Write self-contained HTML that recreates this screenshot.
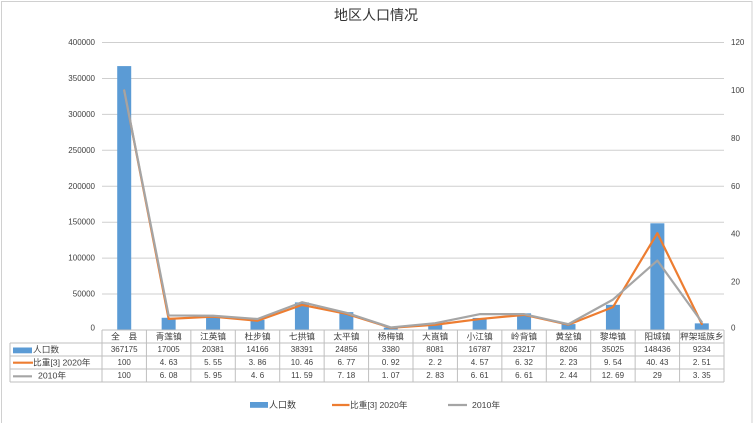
<!DOCTYPE html>
<html>
<head>
<meta charset="utf-8">
<style>
html,body{margin:0;padding:0;background:#fff;}
svg{display:block;}
text{font-family:"Liberation Sans","Noto Sans CJK SC",sans-serif;fill:#404040;}
</style>
</head>
<body>
<svg width="754" height="423" viewBox="0 0 754 423" xmlns="http://www.w3.org/2000/svg">
<rect x="0" y="0" width="754" height="423" fill="#fff"/>
<rect x="1.5" y="1.5" width="750.5" height="424" fill="none" stroke="#d0d0d0" stroke-width="1"/>

<!-- title -->
<text x="376" y="15" font-size="14" text-anchor="middle" dominant-baseline="central" style="fill:#333">地区人口情况</text>

<!-- gridlines -->
<g stroke="#cfcfcf" stroke-width="1">
<line x1="102" y1="42.5" x2="724" y2="42.5"/>
<line x1="102" y1="78.44" x2="724" y2="78.44"/>
<line x1="102" y1="114.38" x2="724" y2="114.38"/>
<line x1="102" y1="150.31" x2="724" y2="150.31"/>
<line x1="102" y1="186.25" x2="724" y2="186.25"/>
<line x1="102" y1="222.19" x2="724" y2="222.19"/>
<line x1="102" y1="258.13" x2="724" y2="258.13"/>
<line x1="102" y1="294.06" x2="724" y2="294.06"/>
</g>

<!-- left axis labels -->
<g font-size="8" text-anchor="end">
<text x="95" y="42.5" dominant-baseline="central">400000</text>
<text x="95" y="78.44" dominant-baseline="central">350000</text>
<text x="95" y="114.38" dominant-baseline="central">300000</text>
<text x="95" y="150.31" dominant-baseline="central">250000</text>
<text x="95" y="186.25" dominant-baseline="central">200000</text>
<text x="95" y="222.19" dominant-baseline="central">150000</text>
<text x="95" y="258.13" dominant-baseline="central">100000</text>
<text x="95" y="294.06" dominant-baseline="central">50000</text>
<text x="95" y="328" dominant-baseline="central">0</text>
</g>

<!-- right axis labels -->
<g font-size="8" text-anchor="start">
<text x="731" y="42.5" dominant-baseline="central">120</text>
<text x="731" y="90.42" dominant-baseline="central">100</text>
<text x="731" y="138.33" dominant-baseline="central">80</text>
<text x="731" y="186.25" dominant-baseline="central">60</text>
<text x="731" y="234.17" dominant-baseline="central">40</text>
<text x="731" y="282.08" dominant-baseline="central">20</text>
<text x="731" y="328" dominant-baseline="central">0</text>
</g>

<!-- bars -->
<g fill="#5b9bd5">
<rect x="117.21" y="66.09" width="14" height="263.91"/>
<rect x="161.64" y="317.78" width="14" height="12.22"/>
<rect x="206.07" y="315.35" width="14" height="14.65"/>
<rect x="250.50" y="319.82" width="14" height="10.18"/>
<rect x="294.93" y="302.41" width="14" height="27.59"/>
<rect x="339.36" y="312.13" width="14" height="17.87"/>
<rect x="383.79" y="327.57" width="14" height="2.43"/>
<rect x="428.21" y="324.19" width="14" height="5.81"/>
<rect x="472.64" y="317.93" width="14" height="12.07"/>
<rect x="517.07" y="313.31" width="14" height="16.69"/>
<rect x="561.50" y="324.10" width="14" height="5.90"/>
<rect x="605.93" y="304.83" width="14" height="25.17"/>
<rect x="650.36" y="223.31" width="14" height="106.69"/>
<rect x="694.79" y="323.36" width="14" height="6.64"/>
</g>

<!-- 2020 line -->
<polyline fill="none" stroke="#ed7d31" stroke-width="2.2" stroke-linejoin="round" stroke-linecap="round"
points="124.21,90.42 168.64,318.91 213.07,316.70 257.50,320.75 301.93,304.94 346.36,313.78 390.79,327.80 435.21,324.73 479.64,319.05 524.07,314.86 568.50,324.66 612.93,307.14 657.36,233.14 701.79,323.99"/>
<!-- 2010 line -->
<polyline fill="none" stroke="#a5a5a5" stroke-width="2.2" stroke-linejoin="round" stroke-linecap="round"
points="124.21,90.42 168.64,315.43 213.07,315.74 257.50,318.98 301.93,302.23 346.36,312.80 390.79,327.44 435.21,323.22 479.64,314.16 524.07,314.16 568.50,324.15 612.93,299.60 657.36,260.52 701.79,321.97"/>

<!-- data table grid -->
<g stroke="#bfbfbf" stroke-width="1" fill="none">
<line x1="102" y1="330" x2="724" y2="330"/>
<line x1="10" y1="343" x2="724" y2="343"/>
<line x1="10" y1="356" x2="724" y2="356"/>
<line x1="10" y1="369" x2="724" y2="369"/>
<line x1="10" y1="382" x2="724" y2="382"/>
<line x1="10" y1="343" x2="10" y2="382"/>
<line x1="102" y1="330" x2="102" y2="382"/>
<line x1="146.43" y1="330" x2="146.43" y2="382"/>
<line x1="190.86" y1="330" x2="190.86" y2="382"/>
<line x1="235.29" y1="330" x2="235.29" y2="382"/>
<line x1="279.71" y1="330" x2="279.71" y2="382"/>
<line x1="324.14" y1="330" x2="324.14" y2="382"/>
<line x1="368.57" y1="330" x2="368.57" y2="382"/>
<line x1="413.00" y1="330" x2="413.00" y2="382"/>
<line x1="457.43" y1="330" x2="457.43" y2="382"/>
<line x1="501.86" y1="330" x2="501.86" y2="382"/>
<line x1="546.29" y1="330" x2="546.29" y2="382"/>
<line x1="590.71" y1="330" x2="590.71" y2="382"/>
<line x1="635.14" y1="330" x2="635.14" y2="382"/>
<line x1="679.57" y1="330" x2="679.57" y2="382"/>
<line x1="724" y1="330" x2="724" y2="382"/>
</g>

<!-- category header -->
<g font-size="8.7" text-anchor="middle">
<text x="124.21" y="336.5" dominant-baseline="central">全　县</text>
<text x="168.64" y="336.5" dominant-baseline="central">青莲镇</text>
<text x="213.07" y="336.5" dominant-baseline="central">江英镇</text>
<text x="257.50" y="336.5" dominant-baseline="central">杜步镇</text>
<text x="301.93" y="336.5" dominant-baseline="central">七拱镇</text>
<text x="346.36" y="336.5" dominant-baseline="central">太平镇</text>
<text x="390.79" y="336.5" dominant-baseline="central">杨梅镇</text>
<text x="435.21" y="336.5" dominant-baseline="central">大崀镇</text>
<text x="479.64" y="336.5" dominant-baseline="central">小江镇</text>
<text x="524.07" y="336.5" dominant-baseline="central">岭背镇</text>
<text x="568.50" y="336.5" dominant-baseline="central">黄坌镇</text>
<text x="612.93" y="336.5" dominant-baseline="central">黎埠镇</text>
<text x="657.36" y="336.5" dominant-baseline="central">阳城镇</text>
<text x="701.79" y="336.5" dominant-baseline="central">秤架瑶族乡</text>
</g>

<!-- row legend keys -->
<rect x="13" y="347.5" width="19" height="5.8" fill="#5b9bd5"/>
<line x1="13" y1="362.7" x2="33" y2="362.7" stroke="#ed7d31" stroke-width="2.2"/>
<line x1="13" y1="376.3" x2="32" y2="376.3" stroke="#a5a5a5" stroke-width="2.2"/>
<g font-size="8.7" text-anchor="start">
<text x="33" y="349.5" dominant-baseline="central">人口数</text>
<text x="33" y="362.5" dominant-baseline="central">比重[3]  2020年</text>
<text x="38" y="375.5" dominant-baseline="central">2010年</text>
</g>

<!-- row: population -->
<g font-size="8" text-anchor="middle">
<text x="124.21" y="349.5" dominant-baseline="central">367175</text>
<text x="168.64" y="349.5" dominant-baseline="central">17005</text>
<text x="213.07" y="349.5" dominant-baseline="central">20381</text>
<text x="257.50" y="349.5" dominant-baseline="central">14166</text>
<text x="301.93" y="349.5" dominant-baseline="central">38391</text>
<text x="346.36" y="349.5" dominant-baseline="central">24856</text>
<text x="390.79" y="349.5" dominant-baseline="central">3380</text>
<text x="435.21" y="349.5" dominant-baseline="central">8081</text>
<text x="479.64" y="349.5" dominant-baseline="central">16787</text>
<text x="524.07" y="349.5" dominant-baseline="central">23217</text>
<text x="568.50" y="349.5" dominant-baseline="central">8206</text>
<text x="612.93" y="349.5" dominant-baseline="central">35025</text>
<text x="657.36" y="349.5" dominant-baseline="central">148436</text>
<text x="701.79" y="349.5" dominant-baseline="central">9234</text>
</g>
<!-- row: 2020 -->
<g font-size="8" text-anchor="middle">
<text x="124.21" y="362.5" dominant-baseline="central">100</text>
<text x="168.64" y="362.5" dominant-baseline="central">4. 63</text>
<text x="213.07" y="362.5" dominant-baseline="central">5. 55</text>
<text x="257.50" y="362.5" dominant-baseline="central">3. 86</text>
<text x="301.93" y="362.5" dominant-baseline="central">10. 46</text>
<text x="346.36" y="362.5" dominant-baseline="central">6. 77</text>
<text x="390.79" y="362.5" dominant-baseline="central">0. 92</text>
<text x="435.21" y="362.5" dominant-baseline="central">2. 2</text>
<text x="479.64" y="362.5" dominant-baseline="central">4. 57</text>
<text x="524.07" y="362.5" dominant-baseline="central">6. 32</text>
<text x="568.50" y="362.5" dominant-baseline="central">2. 23</text>
<text x="612.93" y="362.5" dominant-baseline="central">9. 54</text>
<text x="657.36" y="362.5" dominant-baseline="central">40. 43</text>
<text x="701.79" y="362.5" dominant-baseline="central">2. 51</text>
</g>
<!-- row: 2010 -->
<g font-size="8" text-anchor="middle">
<text x="124.21" y="375.5" dominant-baseline="central">100</text>
<text x="168.64" y="375.5" dominant-baseline="central">6. 08</text>
<text x="213.07" y="375.5" dominant-baseline="central">5. 95</text>
<text x="257.50" y="375.5" dominant-baseline="central">4. 6</text>
<text x="301.93" y="375.5" dominant-baseline="central">11. 59</text>
<text x="346.36" y="375.5" dominant-baseline="central">7. 18</text>
<text x="390.79" y="375.5" dominant-baseline="central">1. 07</text>
<text x="435.21" y="375.5" dominant-baseline="central">2. 83</text>
<text x="479.64" y="375.5" dominant-baseline="central">6. 61</text>
<text x="524.07" y="375.5" dominant-baseline="central">6. 61</text>
<text x="568.50" y="375.5" dominant-baseline="central">2. 44</text>
<text x="612.93" y="375.5" dominant-baseline="central">12. 69</text>
<text x="657.36" y="375.5" dominant-baseline="central">29</text>
<text x="701.79" y="375.5" dominant-baseline="central">3. 35</text>
</g>

<!-- bottom legend -->
<rect x="250" y="402" width="18" height="5.8" fill="#5b9bd5"/>
<text x="269" y="405" font-size="9" dominant-baseline="central">人口数</text>
<line x1="332" y1="405" x2="349.5" y2="405" stroke="#ed7d31" stroke-width="2.2"/>
<text x="350" y="405" font-size="8.7" dominant-baseline="central">比重[3]  2020年</text>
<line x1="448" y1="405" x2="467" y2="405" stroke="#a5a5a5" stroke-width="2.2"/>
<text x="472" y="405" font-size="8.7" dominant-baseline="central">2010年</text>
</svg>
</body>
</html>
